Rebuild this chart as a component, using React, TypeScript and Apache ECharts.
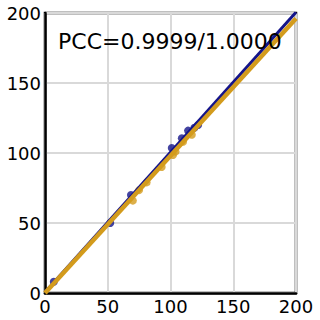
import React, { useEffect, useRef } from "react";
import * as echarts from "echarts";

const xTicks = [0, 50, 100, 150, 200];
const bluePoints: number[][] = [
  [7, 8], [52, 50], [68.5, 70], [101, 103.6], [109, 110.5], [114, 116], [119, 118], [122, 120],
];
const goldPoints: number[][] = [
  [70, 66], [75, 73.5], [81, 79], [93, 90], [102, 98.6], [104, 101], [110, 108], [117, 113],
];
const blueFit: number[][] = [[0, 0.5], [200, 200.5]];
const goldFit: number[][] = [[0, 0], [200, 196]];
const pccText = "PCC=0.9999/1.0000";

const BLUE = "#14148a";
const GOLD = "#d39b1c";

export default function App() {
  const ref = useRef<HTMLDivElement>(null);
  useEffect(() => {
    document.body.style.margin = "0";
    const chart = echarts.init(ref.current!, undefined, { renderer: "svg" });
    const font = "DejaVu Sans";
    const axisCommon = {
      type: "value" as const,
      min: xTicks[0],
      max: xTicks[xTicks.length - 1],
      interval: 50,
      axisLine: { show: true, lineStyle: { color: "#000", width: 2.5 } },
      axisTick: { show: false },
      splitLine: { show: true, lineStyle: { color: "#d9d9d9", width: 2 } },
      axisLabel: { color: "#000", fontSize: 18, fontFamily: font, margin: 4 },
    };
    chart.setOption({
      animation: false,
      grid: {
        left: 45, right: 24, top: 13, bottom: 27,
        show: true, borderColor: "#000", borderWidth: 2.5, backgroundColor: "transparent",
      },
      xAxis: { ...axisCommon },
      yAxis: { ...axisCommon },
      graphic: [
        {
          type: "text",
          left: 58,
          top: 30,
          z: 100,
          style: { text: pccText, fontSize: 22, fontFamily: font, fill: "#000" },
        },
      ],
      series: [
        {
          type: "scatter",
          data: bluePoints,
          symbolSize: 8,
          itemStyle: { color: BLUE },
          z: 2,
        },
        {
          type: "scatter",
          data: goldPoints,
          symbolSize: 8,
          itemStyle: { color: GOLD },
          z: 3,
        },
        {
          type: "line",
          data: blueFit,
          showSymbol: false,
          symbol: "none",
          lineStyle: { color: BLUE, width: 3 },
          z: 4,
        },
        {
          type: "line",
          data: goldFit,
          showSymbol: false,
          symbol: "none",
          lineStyle: { color: GOLD, width: 4.5 },
          z: 5,
        },
      ],
    });
    return () => chart.dispose();
  }, []);
  return <div ref={ref} style={{ width: 320, height: 320 }} />;
}
